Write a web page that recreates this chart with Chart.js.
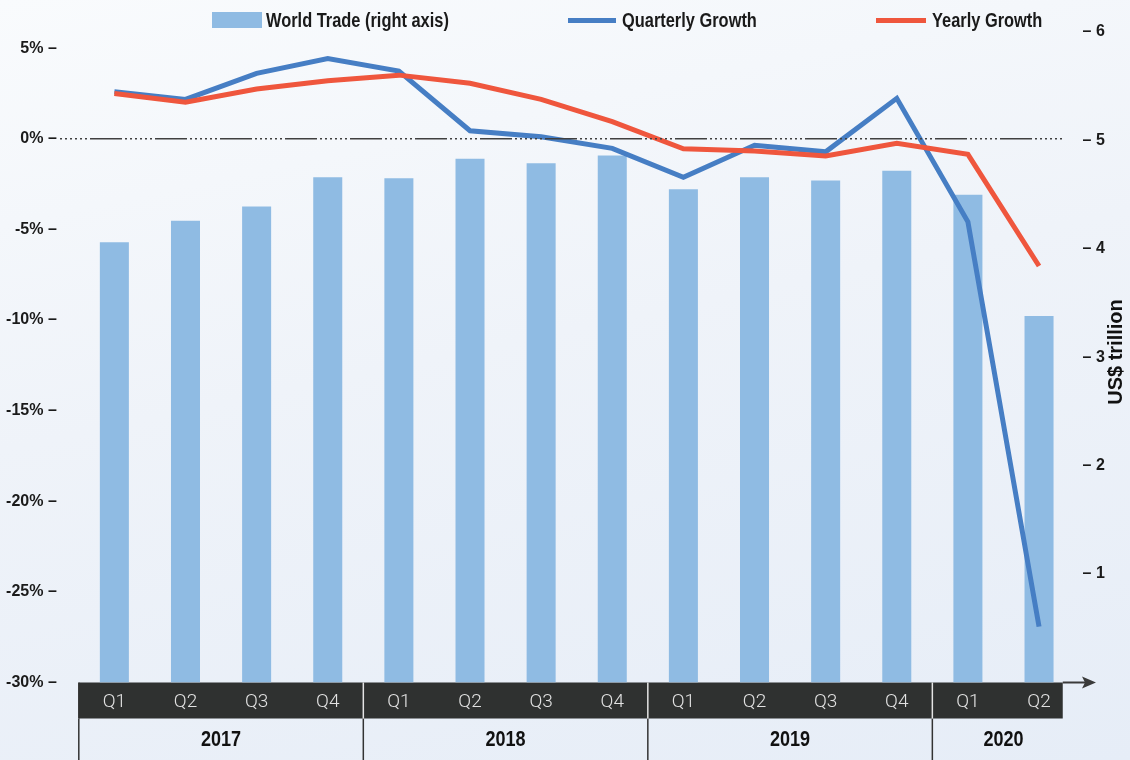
<!DOCTYPE html>
<html>
<head>
<meta charset="utf-8">
<script src="https://cdn.jsdelivr.net/npm/chart.js@4.4.1/dist/chart.umd.min.js"></script>
<style>
body{margin:0;width:1130px;height:760px;overflow:hidden;background:linear-gradient(168deg,#f9fbfd 0%,#eff3f9 45%,#e6edf7 100%)}
#wrap{position:relative;width:1130px;height:760px}
#grafica{position:absolute;left:0;top:0}
#leyenda{position:absolute;left:0;top:0;width:1130px;height:40px}
.item{position:absolute;top:8px;height:24px;display:flex;align-items:center;white-space:nowrap;font-family:'Liberation Sans',Arial,sans-serif;font-weight:bold;font-size:20px;color:#1a1a1a}
.sw{display:inline-block;margin-right:4px}
.txt{display:inline-block;transform:scaleX(0.82);transform-origin:left center}
</style>
</head>
<body>
<div id="wrap">
<canvas id="grafica" width="1130" height="760"></canvas>
<div id="leyenda"></div>
</div>
<script>
//DATA
const quarters=["Q1","Q2","Q3","Q4","Q1","Q2","Q3","Q4","Q1","Q2","Q3","Q4","Q1","Q2"]
const years=["2017","2018","2019","2020"]
const quartersPerYear=[4,4,4,2]
const worldTrade=[4.06,4.26,4.39,4.66,4.65,4.83,4.79,4.86,4.55,4.66,4.63,4.72,4.50,3.38]
const quarterlyGrowth=[2.59,2.17,3.61,4.43,3.73,0.44,0.11,-0.53,-2.13,-0.36,-0.72,2.23,-4.58,-26.92]
const yearlyGrowth=[2.50,2.01,2.74,3.20,3.51,3.06,2.17,0.94,-0.55,-0.68,-0.95,-0.25,-0.86,-7.02]
const leftTicks=[-30,-25,-20,-15,-10,-5,0,5]
const rightTicks=[1,2,3,4,5,6]
const seriesNames=["World Trade (right axis)","Quarterly Growth","Yearly Growth"]
const rightTitle="US$ trillion"

//STYLE
const barColor="#8fbbe3"
const blueColor="#467ec4"
const redColor="#ef563d"
const sansFont="'Liberation Sans',Arial,sans-serif"

//LEGEND
const leyenda=document.querySelector("#leyenda")
const legendLeft=[212,568,876]
const legendSwatch=[
    {w:50,h:16,c:barColor},
    {w:48,h:5,c:blueColor},
    {w:50,h:5,c:redColor}
]
seriesNames.forEach((name,i)=>{
    const item=document.createElement("div")
    item.className="item"
    item.style.left=legendLeft[i]+"px"
    const sw=document.createElement("span")
    sw.className="sw"
    sw.style.width=legendSwatch[i].w+"px"
    sw.style.height=legendSwatch[i].h+"px"
    sw.style.background=legendSwatch[i].c
    if (i>0) sw.style.marginRight="6px"
    const txt=document.createElement("span")
    txt.className="txt"
    txt.textContent=name
    item.appendChild(sw)
    item.appendChild(txt)
    leyenda.appendChild(item)
})

//DECORATION (quarter band, years, zero line, arrow, right title)
const decor={
    id:"decor",
    beforeDraw(chart){
        const {ctx,chartArea,scales}=chart
        const x=scales.x
        const step=x.getPixelForValue(1)-x.getPixelForValue(0)
        const top=chartArea.bottom
        const bandBottom=x.bottom
        const bandRight=x.getPixelForValue(quarters.length-1)+step/3
        ctx.save()
        ctx.fillStyle="#2f3130"
        ctx.fillRect(chartArea.left,top,bandRight-chartArea.left,bandBottom-top)

        let start=0
        ctx.textAlign="center"
        ctx.textBaseline="middle"
        quartersPerYear.forEach((n,i)=>{
            const left=x.getPixelForValue(start)-step/2
            const right=Math.min(x.getPixelForValue(start+n-1)+step/2,chartArea.right)
            ctx.lineWidth=1.5
            ctx.strokeStyle="#333"
            ctx.beginPath()
            ctx.moveTo(left,bandBottom)
            ctx.lineTo(left,chart.height)
            ctx.stroke()
            ctx.strokeStyle=i>0?"#e4e4e4":"#333"
            ctx.beginPath()
            ctx.moveTo(left,top)
            ctx.lineTo(left,bandBottom)
            ctx.stroke()
            // condensed bold year label
            ctx.save()
            ctx.translate((left+right)/2,(bandBottom+chart.height)/2+1)
            ctx.scale(0.82,1)
            ctx.font="bold 22px "+sansFont
            ctx.fillStyle="#111"
            ctx.fillText(years[i],0,0)
            ctx.restore()
            start+=n
        })

        ctx.translate(1116,352)
        ctx.rotate(-Math.PI/2)
        ctx.font="bold 20px "+sansFont
        ctx.fillStyle="#111"
        ctx.fillText(rightTitle,0,0)
        ctx.restore()
    },
    afterDatasetsDraw(chart){
        const {ctx,scales}=chart
        const x=scales.x
        const step=x.getPixelForValue(1)-x.getPixelForValue(0)
        const y0=scales.y.getPixelForValue(0)
        const bandRight=x.getPixelForValue(quarters.length-1)+step/3
        ctx.save()
        ctx.strokeStyle="#404040"
        ctx.lineWidth=1.6
        ctx.setLineDash([32,3,2,3,2,3,2,3,2,3,2,3,2,3])
        ctx.lineDashOffset=-33
        ctx.beginPath()
        ctx.moveTo(57,y0)
        ctx.lineTo(bandRight,y0)
        ctx.stroke()
        ctx.restore()
    },
    afterDraw(chart){
        const {ctx,chartArea,scales}=chart
        const x=scales.x
        const step=x.getPixelForValue(1)-x.getPixelForValue(0)
        const bandRight=x.getPixelForValue(quarters.length-1)+step/3
        const y=chartArea.bottom
        ctx.save()
        ctx.strokeStyle="#3a3a3a"
        ctx.fillStyle="#3a3a3a"
        ctx.lineWidth=2
        ctx.beginPath()
        ctx.moveTo(bandRight,y)
        ctx.lineTo(1086,y)
        ctx.stroke()
        ctx.beginPath()
        ctx.moveTo(1096,y)
        ctx.lineTo(1082,y-6)
        ctx.lineTo(1085,y)
        ctx.lineTo(1082,y+6)
        ctx.closePath()
        ctx.fill()
        ctx.restore()
    }
}

//CHART
const grafica=document.querySelector("#grafica")
new Chart(grafica,{
    type:"bar",
    data:{
        labels:quarters,
        datasets:[
            {
                type:"line",
                label:seriesNames[2],
                data:yearlyGrowth,
                yAxisID:"y",
                borderColor:redColor,
                borderWidth:5,
                pointRadius:0,
                tension:0,
                order:1
            },
            {
                type:"line",
                label:seriesNames[1],
                data:quarterlyGrowth,
                yAxisID:"y",
                borderColor:blueColor,
                borderWidth:5,
                pointRadius:0,
                tension:0,
                order:2
            },
            {
                type:"bar",
                label:seriesNames[0],
                data:worldTrade,
                yAxisID:"y1",
                backgroundColor:barColor,
                categoryPercentage:0.8,
                barPercentage:0.51,
                order:3
            }
        ]
    },
    options:{
        responsive:false,
        animation:false,
        layout:{padding:{top:32,bottom:41.5,left:0,right:0}},
        plugins:{legend:{display:false},tooltip:{enabled:false}},
        scales:{
            x:{
                grid:{display:false},
                border:{display:false},
                ticks:{color:"#e2e2e2",font:{family:"Roboto, 'Liberation Sans', sans-serif",size:19,weight:"300"},padding:0,autoSkip:false,maxRotation:0},
                afterFit(s){s.height=36}
            },
            y:{
                position:"left",
                min:-30,
                max:5.89,
                grid:{display:false},
                border:{display:false},
                afterBuildTicks(s){s.ticks=leftTicks.map(v=>({value:v}))},
                ticks:{callback:v=>v+"% –",color:"#1a1a1a",font:{family:sansFont,size:16,weight:"bold"},padding:14},
                afterFit(s){s.width=78.8}
            },
            y1:{
                position:"right",
                min:0,
                max:6,
                grid:{display:false},
                border:{display:false},
                afterBuildTicks(s){s.ticks=rightTicks.map(v=>({value:v}))},
                ticks:{callback:v=>"– "+v,color:"#1a1a1a",font:{family:sansFont,size:16,weight:"bold"},padding:0},
                afterFit(s){s.width=55.4}
            }
        }
    },
    plugins:[decor]
})
</script>
</body>
</html>
